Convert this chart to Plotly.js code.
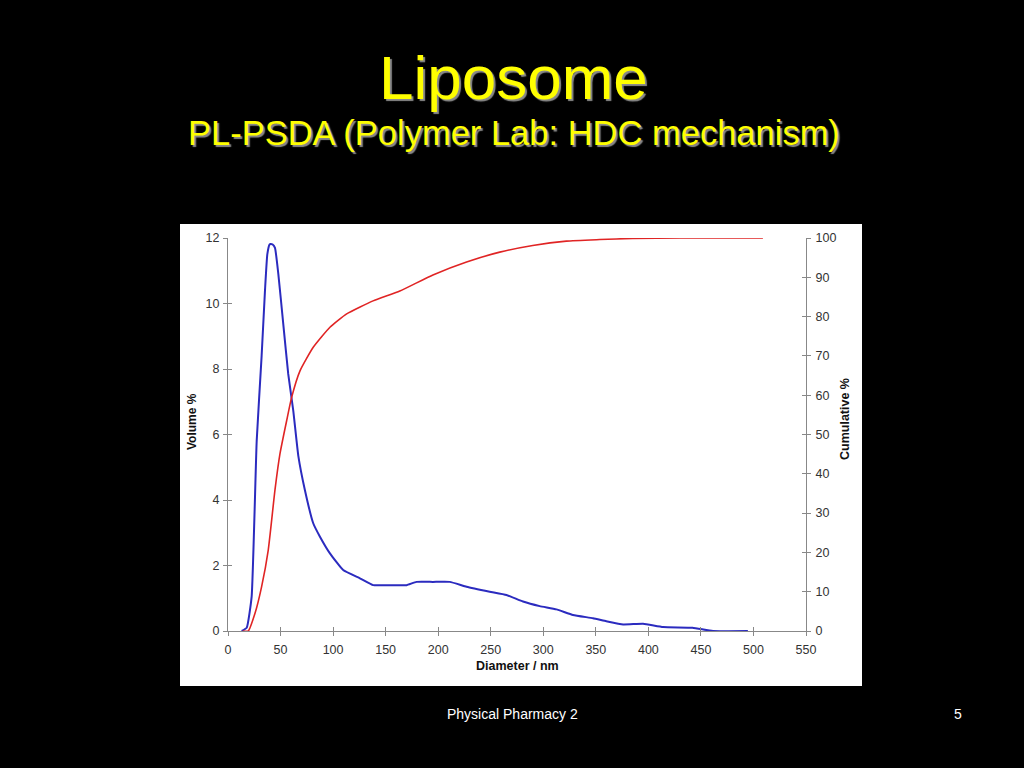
<!DOCTYPE html>
<html>
<head>
<meta charset="utf-8">
<script src="https://cdn.plot.ly/plotly-3.0.1.min.js"></script>
<style>
html,body{margin:0;padding:0;background:#000;}
#chart{width:1024px;height:768px;}
</style>
</head>
<body>
<div id="chart"></div>
<script>
// Volume % distribution (left axis)
var volDiameter = [13, 17.8, 22.5, 27.3, 32, 35.2, 37.4, 39.5, 40.6, 42.5, 44.7, 47.9, 52.6, 57.3, 62.1, 66.9, 73.2, 81.1, 87.5, 97, 109.6, 125.5, 138.2, 150, 163.5, 170, 179.4, 195, 211, 227, 249, 265, 280.7, 296.6, 312.5, 328.3, 347.3, 360, 376, 395, 414, 442, 461.5, 494.7];
var volPercent  = [0, 0.1, 1.05, 5.8, 8.4, 10.4, 11.5, 11.8, 11.82, 11.8, 11.7, 10.9, 9.37, 7.85, 6.73, 5.35, 4.3, 3.29, 2.88, 2.37, 1.86, 1.61, 1.40, 1.40, 1.40, 1.40, 1.5, 1.5, 1.5, 1.35, 1.2, 1.1, 0.9, 0.76, 0.66, 0.49, 0.39, 0.3, 0.2, 0.22, 0.12, 0.1, 0, 0];

// Cumulative % (right axis)
var cumDiameter = [14, 19.3, 25.7, 32, 38.3, 44.7, 49.4, 55.8, 60.6, 68.5, 81.1, 97, 112.9, 138, 163.5, 195, 227, 258.6, 290, 322, 353.7, 385, 430, 509];
var cumPercent  = [0, 0, 4.5, 11.3, 20.6, 35.9, 45, 53.5, 59.5, 66.2, 72.2, 77.3, 80.7, 84, 86.5, 90.6, 93.9, 96.4, 98.1, 99.2, 99.6, 99.9, 100, 100];

var xTicks  = [0, 50, 100, 150, 200, 250, 300, 350, 400, 450, 500, 550];
var yTicks  = [0, 2, 4, 6, 8, 10, 12];
var y2Ticks = [0, 10, 20, 30, 40, 50, 60, 70, 80, 90, 100];

var FONT = 'Arial, "Liberation Sans", sans-serif';

var traces = [
  {x: cumDiameter, y: cumPercent, yaxis: 'y2', mode: 'lines', type: 'scatter',
   line: {color: '#e02424', width: 1.6, shape: 'spline', smoothing: 0.5}, hoverinfo: 'none'},
  {x: volDiameter, y: volPercent, mode: 'lines', type: 'scatter',
   line: {color: '#2b2bbf', width: 2, shape: 'spline', smoothing: 0.4}, hoverinfo: 'none'},
  // empty traces that only carry the inner half of the crossing tick marks
  {x: [], y: [], xaxis: 'x2', yaxis: 'y3', mode: 'lines', type: 'scatter', hoverinfo: 'none'},
  {x: [], y: [], xaxis: 'x2', yaxis: 'y4', mode: 'lines', type: 'scatter', hoverinfo: 'none'}
];

var tickFont = {family: FONT, size: 12.5, color: '#333'};
var TC = '#888';

function baseAxis(extra) {
  var a = {ticks: 'outside', ticklen: 4, tickwidth: 1, tickcolor: TC,
           showline: true, linecolor: TC, linewidth: 1, showgrid: false, zeroline: false,
           tickfont: tickFont, automargin: false, fixedrange: true};
  for (var k in extra) a[k] = extra[k];
  return a;
}

var layout = {
  width: 1024, height: 768,
  paper_bgcolor: '#000', plot_bgcolor: '#fff',
  showlegend: false,
  margin: {l: 228, r: 218, t: 238, b: 137},
  xaxis: baseAxis({range: [0, 550], tickvals: xTicks, ticklabelstandoff: 3}),
  yaxis: baseAxis({range: [0, 12], tickvals: yTicks, ticklabelstandoff: 1}),
  yaxis2: baseAxis({range: [0, 100], tickvals: y2Ticks, overlaying: 'y', side: 'right', ticklabelstandoff: 2}),
  xaxis2: baseAxis({range: [0, 550], tickvals: xTicks, ticks: 'inside', showticklabels: false,
                    overlaying: 'x', side: 'bottom'}),
  yaxis3: baseAxis({range: [0, 12], tickvals: yTicks, ticks: 'inside', showticklabels: false,
                    overlaying: 'y', side: 'left'}),
  yaxis4: baseAxis({range: [0, 100], tickvals: y2Ticks, ticks: 'inside', showticklabels: false,
                    overlaying: 'y', side: 'right'}),
  shapes: [
    {type: 'rect', xref: 'paper', yref: 'paper', layer: 'below',
     x0: (180 - 228) / 578, x1: (862 - 228) / 578,
     y0: (631 - 686) / 393, y1: (631 - 224) / 393,
     fillcolor: '#fff', line: {width: 0}}
  ],
  annotations: [
    {text: 'Liposome', xref: 'paper', yref: 'paper', x: (513 - 228) / 578, y: (631 - 78) / 393,
     showarrow: false, xanchor: 'center', yanchor: 'middle',
     font: {family: FONT, size: 62, color: '#ffff00', shadow: '2px 2px 1px #8a8a8a'}},
    {text: 'PL-PSDA (Polymer Lab: HDC mechanism)', xref: 'paper', yref: 'paper',
     x: (514 - 228) / 578, y: (631 - 133) / 393,
     showarrow: false, xanchor: 'center', yanchor: 'middle',
     font: {family: FONT, size: 34.5, color: '#ffff00', shadow: '2px 2px 1px #8a8a8a'}},
    {text: 'Volume %', xref: 'paper', yref: 'paper', x: (192 - 228) / 578, y: (631 - 422) / 393,
     showarrow: false, xanchor: 'center', yanchor: 'middle', textangle: -90,
     font: {family: FONT, size: 12, color: '#111', weight: 'bold'}},
    {text: 'Cumulative %', xref: 'paper', yref: 'paper', x: (845 - 228) / 578, y: (631 - 419) / 393,
     showarrow: false, xanchor: 'center', yanchor: 'middle', textangle: -90,
     font: {family: FONT, size: 12.5, color: '#111', weight: 'bold'}},
    {text: 'Diameter / nm', xref: 'paper', yref: 'paper', x: (517 - 228) / 578, y: (631 - 666) / 393,
     showarrow: false, xanchor: 'center', yanchor: 'middle',
     font: {family: FONT, size: 12.5, color: '#111', weight: 'bold'}},
    {text: 'Physical Pharmacy 2', xref: 'paper', yref: 'paper', x: (512 - 228) / 578, y: (631 - 714) / 393,
     showarrow: false, xanchor: 'center', yanchor: 'middle',
     font: {family: FONT, size: 14, color: '#fff'}},
    {text: '5', xref: 'paper', yref: 'paper', x: (958 - 228) / 578, y: (631 - 714) / 393,
     showarrow: false, xanchor: 'center', yanchor: 'middle',
     font: {family: FONT, size: 14, color: '#fff'}}
  ]
};

Plotly.newPlot('chart', traces, layout, {staticPlot: true, displayModeBar: false});
</script>
</body>
</html>
